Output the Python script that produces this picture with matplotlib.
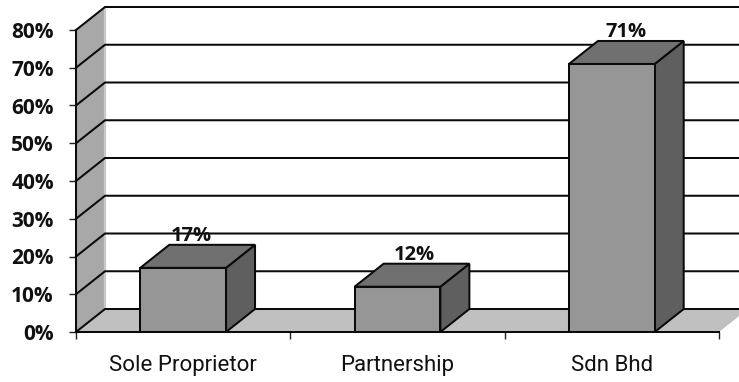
import matplotlib
matplotlib.use("Agg")
import matplotlib.pyplot as plt

categories = ["Sole Proprietor", "Partnership", "Sdn Bhd"]
shares = [17, 12, 71]
y_ticks = [0, 10, 20, 30, 40, 50, 60, 70, 80]

W, H = 739, 382
# plot box of the front plane, in pixels
left, right, bottom, top = 76, 719, 332, 30
BAR_W = 0.4
# depth of the fake 3D effect, in axis units
DX = 29 / ((right - left) / 3)
DY = 23 / ((bottom - top) / 80)
EDGE = "#0a0a0a"
LW = 1.45
# sideways shift of each value label, in points
label_shift = [6, 12, 10.5]

fig = plt.figure(figsize=(W / 100, H / 100), dpi=100)
ax = fig.add_axes([left / W, 1 - bottom / H, (right - left) / W, (bottom - top) / H])
ax.set_xlim(0, 3)
ax.set_ylim(0, 80)
for s in ax.spines.values():
    s.set_visible(False)

# side wall and floor
ax.fill([0, DX, DX, 0], [0, DY, 80 + DY, 80], color="#a8a8a8", lw=0, clip_on=False, zorder=1)
ax.plot([DX, DX], [DY, 80 + DY], color="#c8c8c8", lw=1.6, clip_on=False, zorder=1.5)
ax.fill([0, 3, 3 + DX, DX], [0, 0, DY, DY], color="#c0c0c0", lw=0, clip_on=False, zorder=1)

# gridlines wrap from the wall onto the back plane
for t in y_ticks:
    ax.plot([0, DX, 3 + DX], [t, t + DY, t + DY], color=EDGE, lw=LW, clip_on=False,
            solid_joinstyle="miter", zorder=2)
ax.plot([0, 0], [0, 80], color=EDGE, lw=LW, clip_on=False, zorder=2)
ax.plot([0, 3], [0, 0], color=EDGE, lw=LW, clip_on=False, zorder=5)

for i, v in enumerate(shares):
    x0 = i + 0.5 - BAR_W / 2
    x1 = x0 + BAR_W
    style = dict(edgecolor=EDGE, lw=LW, clip_on=False, joinstyle="miter", zorder=4)
    ax.fill([x1, x1 + DX, x1 + DX, x1], [0, DY, v + DY, v], facecolor="#5f5f5f", **style)
    ax.fill([x0, x1, x1 + DX, x0 + DX], [v, v, v + DY, v + DY], facecolor="#707070", **style)
    ax.fill([x0, x1, x1, x0], [0, 0, v, v], facecolor="#969696", **style)
    ax.annotate(f"{v}%", (i + 0.5, v + DY), xytext=(label_shift[i], -1),
                textcoords="offset points", ha="center", va="bottom", annotation_clip=False,
                family="Open Sans", fontweight="bold", fontsize=14.5, color="#111111", zorder=6)

ax.set_yticks(y_ticks)
ax.set_yticklabels([f"{t}%" for t in y_ticks], family="Open Sans", fontweight="bold",
                   fontsize=15, color="#111111")
ax.tick_params(axis="y", length=5, width=1, color="#222222", pad=11)

ax.set_xticks([0, 1, 2, 3])
ax.set_xticklabels([])
ax.set_xticks([0.5, 1.5, 2.5], minor=True)
ax.set_xticklabels(categories, minor=True, family="Roboto", fontsize=16, color="#111111")
ax.tick_params(axis="x", which="major", length=5, width=1, color="#222222")
ax.tick_params(axis="x", which="minor", length=0, pad=16.5)

fig.savefig("out.png", dpi=100, facecolor="white")
